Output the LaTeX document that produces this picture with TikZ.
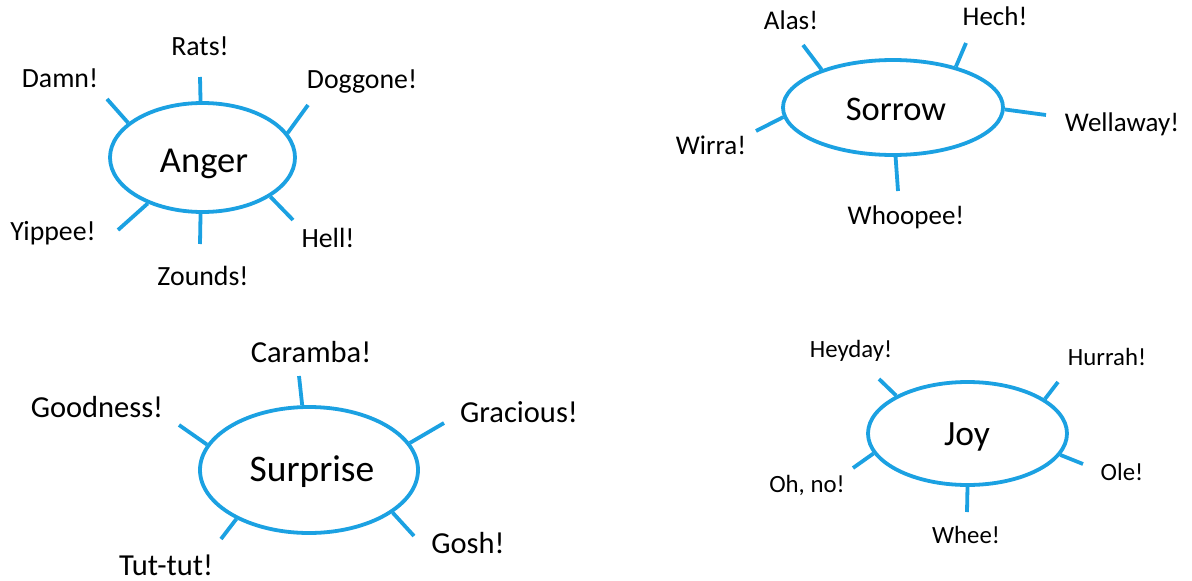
\documentclass[tikz,border=0pt]{standalone}
\usepackage{fontspec}
\setmainfont{Carlito}
\usetikzlibrary{shapes.geometric}
\definecolor{spokeblue}{RGB}{27,161,226}
\tikzset{
  bubble/.style={ellipse, draw=spokeblue, line width=3.8pt, inner sep=0pt},
  spoke/.style={draw=spokeblue, line width=3.8pt},
  word/.style={anchor=base, inner sep=0pt, text=black},
  fa/.style={font=\fontsize{27.8}{30}\selectfont},
  fs/.style={font=\fontsize{27}{29}\selectfont},
  fu/.style={font=\fontsize{30.5}{33}\selectfont},
  fj/.style={font=\fontsize{24.8}{27}\selectfont},
}
\begin{document}
\begin{tikzpicture}[x=1pt,y=-1pt]
\useasboundingbox[fill=white] (0,0) rectangle (1192,581);

% ---------------- Anger ----------------
\node[bubble, minimum width=185pt, minimum height=109pt] (anger) at (202.5,157.5) {};
\node[word, font=\fontsize{36.5}{40}\selectfont] (angerT) at (204,172) {Anger};
\coordinate (a1) at (200,77);
\coordinate (a2) at (107,99);
\coordinate (a3) at (308,105);
\coordinate (a4) at (118,230);
\coordinate (a5) at (200,244);
\coordinate (a6) at (293,220);
\draw[spoke] (anger.92) -- (a1);
\draw[spoke] (anger.155) -- (a2);
\draw[spoke] (anger.16) -- (a3);
\draw[spoke] (anger.220) -- (a4);
\draw[spoke] (anger.268) -- (a5);
\draw[spoke] (anger.330) -- (a6);
\node[word, fa] (rats) at (200,55) {Rats!};
\node[word, fa] (damn) at (60,87) {Damn!};
\node[word, fa] (doggone) at (362,88) {Doggone!};
\node[word, fa] (yippee) at (53,240) {Yippee!};
\node[word, fa] (zounds) at (203,285) {Zounds!};
\node[word, fa] (hell) at (328,247) {Hell!};

% ---------------- Sorrow ----------------
\node[bubble, minimum width=220pt, minimum height=95pt] (sorrow) at (893,107.5) {};
\node[word, font=\fontsize{34.5}{38}\selectfont] (sorrowT) at (896,120) {Sorrow};
\coordinate (s1) at (803,45);
\coordinate (s2) at (966,43);
\coordinate (s3) at (1046,115);
\coordinate (s4) at (756,131);
\coordinate (s5) at (898,191);
\draw[spoke] (sorrow.152.5) -- (s1);
\draw[spoke] (sorrow.33.4) -- (s2);
\draw[spoke] (sorrow.359) -- (s3);
\draw[spoke] (sorrow.185.6) -- (s4);
\draw[spoke] (sorrow.273.6) -- (s5);
\node[word, fs] (alas) at (791,29) {Alas!};
\node[word, fs] (hech) at (995,25) {Hech!};
\node[word, fs] (wellaway) at (1122,131) {Wellaway!};
\node[word, fs] (wirra) at (711,154) {Wirra!};
\node[word, fs] (whoopee) at (906,224) {Whoopee!};

% ---------------- Surprise ----------------
\node[bubble, minimum width=218pt, minimum height=126pt] (surprise) at (309,470) {};
\node[word, font=\fontsize{37.5}{41}\selectfont] (surpriseT) at (312,481) {Surprise};
\coordinate (u1) at (299,376);
\coordinate (u2) at (179,425);
\coordinate (u3) at (444,423);
\coordinate (u4) at (221,539);
\coordinate (u5) at (414,536);
\draw[spoke] (surprise.96.4) -- (u1);
\draw[spoke] (surprise.166.6) -- (u2);
\draw[spoke] (surprise.15) -- (u3);
\draw[spoke] (surprise.214.4) -- (u4);
\draw[spoke] (surprise.333.2) -- (u5);
\node[word, fu] (caramba) at (311,362) {Caramba!};
\node[word, fu] (goodness) at (97,417) {Goodness!};
\node[word, fu] (gracious) at (519,422) {Gracious!};
\node[word, fu] (tuttut) at (166,575) {Tut-tut!};
\node[word, fu] (gosh) at (468,553) {Gosh!};

% ---------------- Joy ----------------
\node[bubble, minimum width=199pt, minimum height=103pt] (joy) at (967.5,433.5) {};
\node[word, font=\fontsize{35.5}{39}\selectfont] (joyT) at (967,445) {Joy};
\coordinate (j1) at (879,379);
\coordinate (j2) at (1058,382);
\coordinate (j3) at (853,468);
\coordinate (j4) at (1083,464);
\coordinate (j5) at (967,512);
\draw[spoke] (joy.152.6) -- (j1);
\draw[spoke] (joy.24.6) -- (j2);
\draw[spoke] (joy.192.4) -- (j3);
\draw[spoke] (joy.347.3) -- (j4);
\draw[spoke] (joy.270) -- (j5);
\node[word, fj] (heyday) at (851,357) {Heyday!};
\node[word, fj] (hurrah) at (1107,365) {Hurrah!};
\node[word, fj] (ohno) at (807,492) {Oh, no!};
\node[word, fj] (ole) at (1122,480) {Ole!};
\node[word, fj] (whee) at (966,543) {Whee!};
\end{tikzpicture}
\end{document}
